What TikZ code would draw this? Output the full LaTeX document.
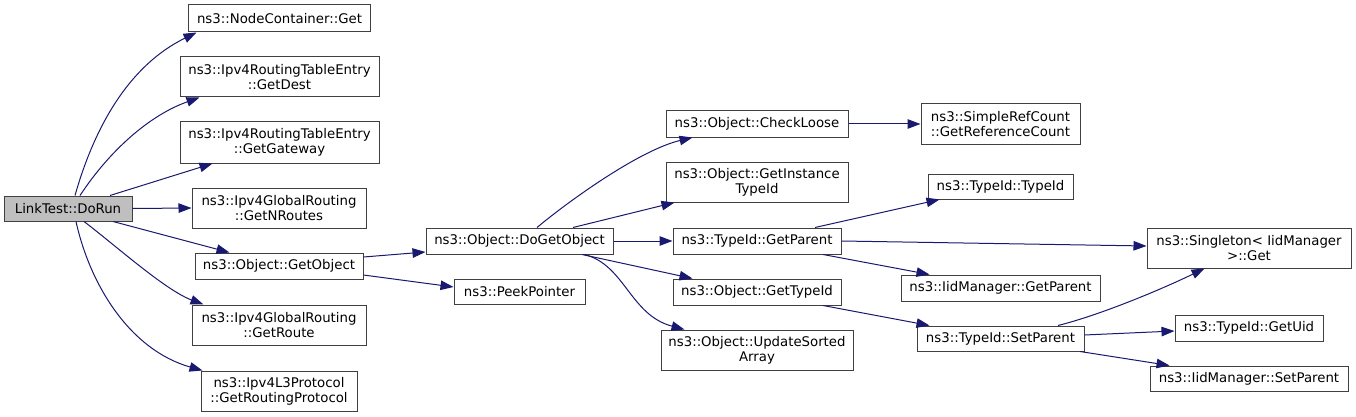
\documentclass[tikz,border=0pt]{standalone}
\usepackage{fontspec}
\setmainfont{DejaVu Sans}
\usetikzlibrary{arrows.meta}
\definecolor{edgeblue}{RGB}{25,25,112}
\definecolor{nodeborder}{RGB}{64,64,64}
\definecolor{mainfill}{RGB}{191,191,191}
\begin{document}
\begin{tikzpicture}[x=1pt,y=-1pt,
  box/.style={draw=nodeborder,line width=1pt,fill=white,inner sep=0pt,align=center,
    font=\fontsize{13.3}{15}\selectfont},
  link/.style={draw=edgeblue,line width=1pt,-{Triangle[length=13pt,width=9.5pt]},fill=none}]
\useasboundingbox (0,0) rectangle (1356,417);
\fill[white] (0,0) rectangle (1356,417);
% nodes
\node[box,fill=mainfill,minimum width=128pt,minimum height=25pt] (dorun) at (68,208.5) {LinkTest::DoRun};
\node[box,minimum width=182pt,minimum height=27pt] (ncget) at (279.5,18.5) {ns3::NodeContainer::Get};
\node[box,minimum width=199pt,minimum height=40pt] (getdest) at (279.5,77) {ns3::Ipv4RoutingTableEntry\\::GetDest};
\node[box,minimum width=199pt,minimum height=41pt] (getgw) at (279.5,142.5) {ns3::Ipv4RoutingTableEntry\\::GetGateway};
\node[box,minimum width=174pt,minimum height=40pt] (getnr) at (279,208) {ns3::Ipv4GlobalRouting\\::GetNRoutes};
\node[box,minimum width=168pt,minimum height=26pt] (getobj) at (279,266) {ns3::Object::GetObject};
\node[box,minimum width=174pt,minimum height=40pt] (getroute) at (279,325) {ns3::Ipv4GlobalRouting\\::GetRoute};
\node[box,minimum width=156pt,minimum height=40pt] (getrp) at (279,391) {ns3::Ipv4L3Protocol\\::GetRoutingProtocol};
\node[box,minimum width=187pt,minimum height=26pt] (dogetobj) at (519.5,241) {ns3::Object::DoGetObject};
\node[box,minimum width=131pt,minimum height=25pt] (peek) at (519.5,291.5) {ns3::PeekPointer};
\node[box,minimum width=182pt,minimum height=26pt] (checkloose) at (757,124) {ns3::Object::CheckLoose};
\node[box,minimum width=182pt,minimum height=40pt] (getinst) at (757,182) {ns3::Object::GetInstance\\TypeId};
\node[box,minimum width=168pt,minimum height=26pt] (tgetparent) at (757,241) {ns3::TypeId::GetParent};
\node[box,minimum width=168pt,minimum height=26pt] (ogettypeid) at (757,292) {ns3::Object::GetTypeId};
\node[box,minimum width=192pt,minimum height=40pt] (updsorted) at (757,350) {ns3::Object::UpdateSorted\\Array};
\node[box,minimum width=159pt,minimum height=40pt] (refcount) at (1000.5,124) {ns3::SimpleRefCount\\::GetReferenceCount};
\node[box,minimum width=145pt,minimum height=25pt] (typeid) at (1000.5,186.5) {ns3::TypeId::TypeId};
\node[box,minimum width=199pt,minimum height=26pt] (iidgetparent) at (1000.5,288) {ns3::IidManager::GetParent};
\node[box,minimum width=167pt,minimum height=25pt] (setparent) at (1000.5,338.5) {ns3::TypeId::SetParent};
\node[box,minimum width=204pt,minimum height=40pt] (singleton) at (1249,248) {ns3::Singleton< IidManager\\>::Get};
\node[box,minimum width=148pt,minimum height=26pt] (getuid) at (1249,328) {ns3::TypeId::GetUid};
\node[box,minimum width=198pt,minimum height=25pt] (iidsetparent) at (1249,378.5) {ns3::IidManager::SetParent};
% edges
\draw[link] ([xshift=7pt]dorun.north) .. controls (95,125) and (130,65) .. ([xshift=8.5pt]ncget.south west);
\draw[link] ([xshift=12pt]dorun.north) .. controls (110,150) and (150,115) .. ([xshift=20pt]getdest.south west);
\draw[link] ([xshift=42pt]dorun.north) -- ([xshift=33pt]getgw.south west);
\draw[link] (dorun.east) -- (getnr.west);
\draw[link] ([xshift=45pt]dorun.south) -- ([xshift=35pt]getobj.north west);
\draw[link] ([xshift=16pt]dorun.south) .. controls (115,245) and (165,290) .. ([xshift=12pt]getroute.north west);
\draw[link] ([xshift=8pt]dorun.south) .. controls (90,285) and (130,350) .. ([xshift=2pt]getrp.north west);
\draw[link] ([yshift=9pt]getobj.east) -- ([yshift=-11pt]dogetobj.west);
\draw[link] ([yshift=-9pt]getobj.east) -- ([yshift=4.5pt]peek.west);
\draw[link] ([xshift=17.5pt]dogetobj.north) .. controls (570,200) and (640,150) .. ([xshift=27pt]checkloose.south west);
\draw[link] ([xshift=53.5pt]dogetobj.north) -- ([xshift=9pt]getinst.south west);
\draw[link] (dogetobj.east) -- (tgetparent.west);
\draw[link] ([xshift=62.5pt]dogetobj.south) -- ([xshift=20pt]ogettypeid.north west);
\draw[link] ([xshift=65pt]dogetobj.south) .. controls (625,265) and (630,315) .. ([xshift=24pt]updsorted.north west);
\draw[link] (checkloose.east) -- (refcount.west);
\draw[link] ([xshift=58pt]tgetparent.north) -- ([xshift=12pt]typeid.south west);
\draw[link] (tgetparent.east) -- ([yshift=2pt]singleton.west);
\draw[link] ([xshift=66pt]tgetparent.south) -- ([xshift=29pt]iidgetparent.north west);
\draw[link] ([xshift=66pt]ogettypeid.south) -- ([xshift=13pt]setparent.north west);
\draw[link] ([xshift=57.5pt]setparent.north) .. controls (1100,315) and (1160,290) .. ([xshift=58pt]singleton.south west);
\draw[link] ([yshift=3.5pt]setparent.east) -- ([yshift=-3pt]getuid.west);
\draw[link] ([xshift=79.5pt]setparent.south) -- ([xshift=20pt]iidsetparent.north west);
\end{tikzpicture}
\end{document}
